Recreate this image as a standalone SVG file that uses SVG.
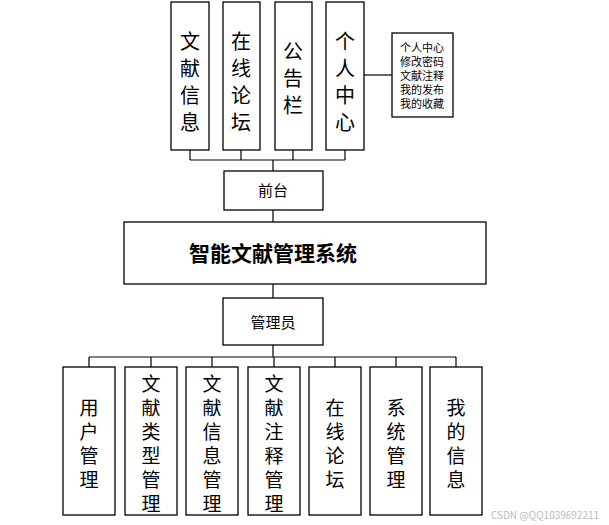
<svg xmlns="http://www.w3.org/2000/svg" width="609" height="525" viewBox="0 0 609 525">
<style>
rect{fill:#fff;stroke:#000;stroke-width:1.3}
.c line{stroke:#000;stroke-width:1.2}
text{font-family:"Noto Sans CJK SC","Liberation Sans",sans-serif;fill:#000;text-anchor:middle}
.t{font-size:20px}
.b{font-size:19px}
.s{font-size:11px}
</style>
<rect x="0" y="0" width="609" height="525" style="stroke:none"/>
<g class="c">
<line x1="364" y1="75" x2="392" y2="75"/>
<line x1="190" y1="160" x2="345" y2="160"/>
<line x1="190" y1="150" x2="190" y2="160"/><line x1="241" y1="150" x2="241" y2="160"/>
<line x1="293" y1="150" x2="293" y2="160"/><line x1="345" y1="150" x2="345" y2="160"/>
<line x1="273" y1="160" x2="273" y2="171"/>
<line x1="273" y1="210" x2="273" y2="222"/>
<line x1="273" y1="284" x2="273" y2="298"/>
<line x1="273" y1="345" x2="273" y2="357"/>
<line x1="89" y1="357" x2="456" y2="357"/>
<line x1="89" y1="357" x2="89" y2="367"/><line x1="151" y1="357" x2="151" y2="367"/>
<line x1="212" y1="357" x2="212" y2="367"/><line x1="274" y1="357" x2="274" y2="367"/>
<line x1="335" y1="357" x2="335" y2="367"/><line x1="396" y1="357" x2="396" y2="367"/>
<line x1="456" y1="357" x2="456" y2="367"/>
</g>
<g id="n1"><rect x="171" y="2" width="38" height="148"/><text class="t" x="190"><tspan x="190" y="49">文</tspan><tspan x="190" y="76">献</tspan><tspan x="190" y="103">信</tspan><tspan x="190" y="118" dy="12">息</tspan></text></g>
<g id="n2"><rect x="223" y="2" width="37" height="148"/><text class="t"><tspan x="241" y="49">在</tspan><tspan x="241" y="76">线</tspan><tspan x="241" y="103">论</tspan><tspan x="241" y="130">坛</tspan></text></g>
<g id="n3"><rect x="275" y="2" width="37" height="148"/><text class="t"><tspan x="293" y="59">公</tspan><tspan x="293" y="86">告</tspan><tspan x="293" y="113">栏</tspan></text></g>
<g id="n4"><rect x="326" y="2" width="38" height="148"/><text class="t"><tspan x="345" y="49">个</tspan><tspan x="345" y="76">人</tspan><tspan x="345" y="103">中</tspan><tspan x="345" y="130">心</tspan></text></g>
<g id="n5"><rect x="392" y="33" width="61" height="84"/><text class="s"><tspan x="422" y="52">个人中心</tspan><tspan x="422" y="66">修改密码</tspan><tspan x="422" y="80">文献注释</tspan><tspan x="422" y="94">我的发布</tspan><tspan x="422" y="108">我的收藏</tspan></text></g>
<g id="n6"><rect x="224" y="171" width="99" height="39"/><text x="273" y="196" style="font-size:15px">前台</text></g>
<g id="n7"><rect x="124" y="222" width="362" height="62"/><text x="273" y="261" style="font-size:21px;font-weight:bold">智能文献管理系统</text></g>
<g id="n8"><rect x="223" y="298" width="100" height="47"/><text x="273" y="328" style="font-size:15px">管理员</text></g>
<g id="m1"><rect x="63" y="367" width="52" height="148"/><text class="b"><tspan x="89" y="415">用</tspan><tspan x="89" y="439">户</tspan><tspan x="89" y="463">管</tspan><tspan x="89" y="487">理</tspan></text></g>
<g id="m2"><rect x="125" y="367" width="52" height="148"/><text class="b"><tspan x="151" y="391">文</tspan><tspan x="151" y="415">献</tspan><tspan x="151" y="439">类</tspan><tspan x="151" y="463">型</tspan><tspan x="151" y="487">管</tspan><tspan x="151" y="511">理</tspan></text></g>
<g id="m3"><rect x="186" y="367" width="52" height="148"/><text class="b"><tspan x="212" y="391">文</tspan><tspan x="212" y="415">献</tspan><tspan x="212" y="439">信</tspan><tspan x="212" y="463">息</tspan><tspan x="212" y="487">管</tspan><tspan x="212" y="511">理</tspan></text></g>
<g id="m4"><rect x="248" y="367" width="52" height="148"/><text class="b"><tspan x="274" y="391">文</tspan><tspan x="274" y="415">献</tspan><tspan x="274" y="439">注</tspan><tspan x="274" y="463">释</tspan><tspan x="274" y="487">管</tspan><tspan x="274" y="511">理</tspan></text></g>
<g id="m5"><rect x="309" y="367" width="52" height="148"/><text class="b"><tspan x="335" y="415">在</tspan><tspan x="335" y="439">线</tspan><tspan x="335" y="463">论</tspan><tspan x="335" y="487">坛</tspan></text></g>
<g id="m6"><rect x="370" y="367" width="52" height="148"/><text class="b"><tspan x="396" y="415">系</tspan><tspan x="396" y="439">统</tspan><tspan x="396" y="463">管</tspan><tspan x="396" y="487">理</tspan></text></g>
<g id="m7"><rect x="430" y="367" width="52" height="148"/><text class="b"><tspan x="456" y="415">我</tspan><tspan x="456" y="439">的</tspan><tspan x="456" y="463">信</tspan><tspan x="456" y="487">息</tspan></text></g>
<text x="545" y="519" style="font-size:10px;fill:#bbb">CSDN @QQ1039692211</text>
</svg>
